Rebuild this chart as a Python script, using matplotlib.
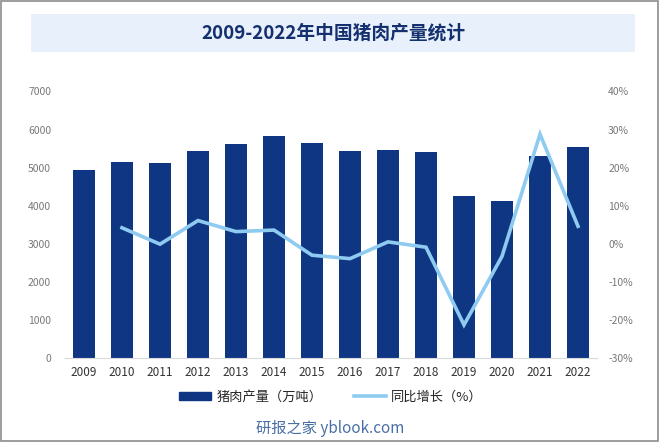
import matplotlib
matplotlib.use("Agg")
import matplotlib.pyplot as plt
from matplotlib.patches import Rectangle
from matplotlib.lines import Line2D

plt.rcParams['font.family'] = ['Noto Sans CJK SC', 'DejaVu Sans']

years = ['2009', '2010', '2011', '2012', '2013', '2014', '2015', '2016',
         '2017', '2018', '2019', '2020', '2021', '2022']
production = [4932.8, 5138.4, 5131.6, 5443.5, 5618.6, 5820.8, 5645.4, 5425.5,
              5451.8, 5403.7, 4255.0, 4113.0, 5296.0, 5541.0]
growth_years = years[1:]
growth = [4.2, -0.1, 6.1, 3.2, 3.6, -3.0, -3.9, 0.5, -0.9, -21.3, -3.3, 28.8, 4.6]

bar_color = '#0F3683'
line_color = '#8FCBF0'
tick_color = '#787878'

fig = plt.figure(figsize=(6.59, 4.42), dpi=100)
fig.patch.set_facecolor('white')
# figure border
fig.patches.append(Rectangle((0.0015, 0.002), 0.997, 0.996, transform=fig.transFigure,
                             fill=False, edgecolor='#8C8C8C', linewidth=1.2))
# title box
fig.patches.append(Rectangle((31/659, 1-52/442), (635-31)/659, 38/442, transform=fig.transFigure,
                             facecolor='#E8F0FB', edgecolor='none'))
fig.text(333/659, 1-33/442, '2009-2022年中国猪肉产量统计', ha='center', va='center',
         fontsize=13.5, color='#14306E', fontweight='bold')

ax = fig.add_axes([65/659, 1-358/442, (597-65)/659, (358-91.5)/442])
x = list(range(len(years)))
ax.bar(x, production, width=0.57, color=bar_color, zorder=2)
ax.set_xlim(-0.5, len(years) - 0.5)
ax.set_ylim(0, 7000)
ax.set_yticks(range(0, 7001, 1000))
ax.set_xticks(x)
ax.set_xticklabels(years)
for s in ['top', 'right', 'left']:
    ax.spines[s].set_visible(False)
ax.spines['bottom'].set_color('#D9D9D9')
ax.tick_params(axis='both', length=0, colors=tick_color)
ax.tick_params(axis='x', labelsize=8.5, pad=6, colors='#333333')
ax.tick_params(axis='y', labelsize=7.5, pad=10)

ax2 = ax.twinx()
gx = [years.index(y) for y in growth_years]
ax2.plot(gx, growth, color=line_color, linewidth=2.6, zorder=3,
         solid_joinstyle='miter')
ax2.set_ylim(-30, 40)
ax2.set_yticks(range(-30, 41, 10))
ax2.set_yticklabels([f'{v}%' for v in range(-30, 41, 10)])
for s in ['top', 'right', 'left', 'bottom']:
    ax2.spines[s].set_visible(False)
ax2.tick_params(axis='y', length=0, colors=tick_color, labelsize=7.5, pad=8)

handles = [Rectangle((0, 0), 1, 1, color=bar_color),
           Line2D([0], [0], color=line_color, linewidth=2.6)]
fig.legend(handles, ['猪肉产量（万吨）', '同比增长（%）'], loc='center',
           bbox_to_anchor=(331/659, 1-397/442), ncol=2, frameon=False,
           fontsize=9.5, handlelength=2.4, handleheight=0.6, columnspacing=2.4,
           handletextpad=0.4, labelcolor='#262626')

fig.text(330/659, 1-428/442, '研报之家 yblook.com', ha='center', va='center',
         fontsize=11, color='#4A6FA5')

fig.savefig('out.png', dpi=100)
